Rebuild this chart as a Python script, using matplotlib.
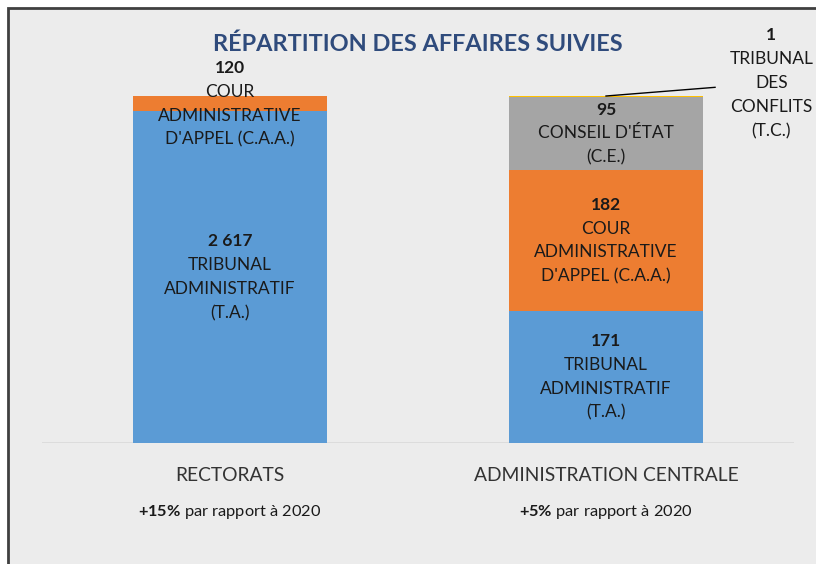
import matplotlib.pyplot as plt
from matplotlib.patches import Rectangle
import numpy as np

categories = ["RECTORATS", "ADMINISTRATION CENTRALE"]
growth = ["+15%", "+5%"]
series = ["TA", "CAA", "CE", "TC"]
names = {
    "TA": "TRIBUNAL\nADMINISTRATIF\n(T.A.)",
    "CAA": "COUR\nADMINISTRATIVE\nD'APPEL (C.A.A.)",
    "CE": "CONSEIL D'ÉTAT\n(C.E.)",
    "TC": "TRIBUNAL\nDES\nCONFLITS\n(T.C.)",
}
values = {
    "TA": [2617, 171],
    "CAA": [120, 182],
    "CE": [0, 95],
    "TC": [0, 1],
}
colors = {"TA": "#5b9bd5", "CAA": "#ed7d31", "CE": "#a5a5a5", "TC": "#ffc000"}

plt.rcParams['font.family'] = ['Lato', 'DejaVu Sans']
plt.rcParams['mathtext.fontset'] = 'custom'
plt.rcParams['mathtext.bf'] = 'Lato:bold'
plt.rcParams['mathtext.rm'] = 'Lato'

bg = "#ececec"
fig = plt.figure(figsize=(8.16, 5.64), dpi=100)
fig.patch.set_facecolor("white")
fig.patches.append(Rectangle((8 / 816, -0.5), 2, 1.5 - 8 / 564, transform=fig.transFigure,
                             facecolor=bg, edgecolor="#404040", linewidth=2, zorder=-5))

ax = fig.add_axes([42 / 816, 1 - 443 / 564, 752 / 816, 347 / 564])
ax.set_zorder(2)
ax.set_facecolor("none")
ax.set_xlim(-0.5, 1.5)
ax.set_ylim(0, 1)
for s in ax.spines.values():
    s.set_visible(False)
ax.set_xticks([])
ax.set_yticks([])
ax.axhline(0, color="#d9d9d9", linewidth=1.2)

x = np.arange(len(categories))
totals = np.sum([values[s] for s in series], axis=0)
bottom = np.zeros(len(categories))
LS = 17.2  # line spacing in points


def fmt(v):
    return f"{v:,}".replace(",", " ")


def label_block(xc, yc, num, name, dx=0):
    lines = name.split("\n")
    n = len(lines) + 1
    for i in range(n):
        off = ((n - 1) / 2 - i) * LS
        txt = num if i == 0 else lines[i - 1]
        ax.annotate(txt, (xc, yc), xytext=(dx, off), textcoords="offset points",
                    ha="center", va="center", fontsize=12.5,
                    fontweight="bold" if i == 0 else "normal",
                    color="#1a1a1a", annotation_clip=False)


for s in series:
    share = np.array(values[s]) / totals
    ax.bar(x, share, bottom=bottom, width=0.514, color=colors[s], zorder=2)
    for i in range(len(categories)):
        v = values[s][i]
        if v == 0:
            continue
        if s == "TC":
            top = bottom[i] + share[i]
            ax.plot([x[i], x[i] + 0.29], [top, top + 0.025], color="black", lw=1, zorder=3,
                    clip_on=False)
            label_block(x[i] + 0.44, top + 0.037, fmt(v), names[s])
        else:
            label_block(x[i], bottom[i] + share[i] / 2, fmt(v), names[s])
    bottom += share

for i, c in enumerate(categories):
    ax.text(x[i], -0.095, c, ha="center", va="center", fontsize=13.9, color="#333333",
            transform=ax.get_xaxis_transform())
    sub = growth[i].replace("%", r"\%")
    ax.text(x[i], -0.198, r"$\bf{" + sub + "}$ par rapport à 2020", ha="center", va="center",
            fontsize=11.8, color="#1a1a1a", transform=ax.get_xaxis_transform())

fig.text(418 / 816, 1 - 44 / 564, "RÉPARTITION DES AFFAIRES SUIVIES", ha="center", va="center",
         fontsize=16.9, fontweight="bold", color="#2f4b7c")

fig.savefig("out.png", dpi=100, facecolor=fig.get_facecolor())
